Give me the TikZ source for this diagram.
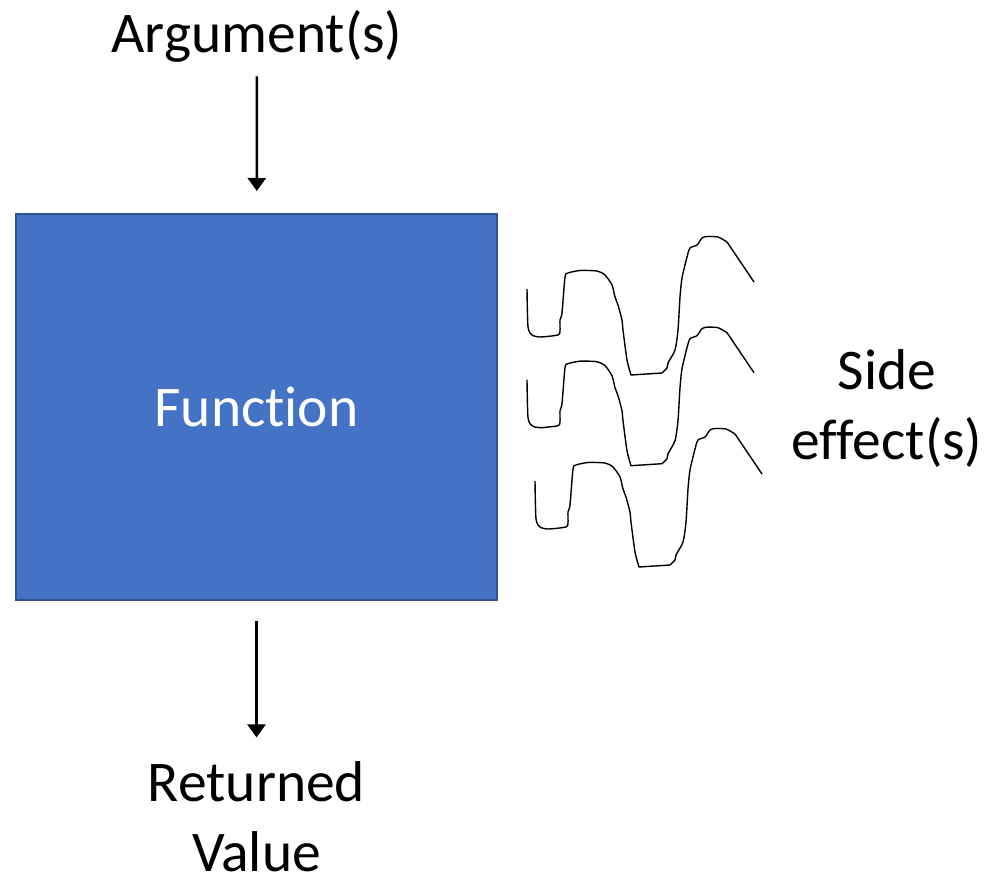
\documentclass[tikz,border=0pt]{standalone}
\usepackage{fontspec}
\setmainfont{Carlito}[Ligatures=NoCommon]
\usepackage{tikz}
\usetikzlibrary{arrows.meta}
\pgfdeclarelayer{nodelayer}
\pgfdeclarelayer{edgelayer}
\pgfsetlayers{edgelayer,nodelayer,main}
\definecolor{boxblue}{HTML}{4472C4}
\definecolor{boxedge}{HTML}{2F528F}
\tikzstyle{function box}=[fill=boxblue, draw=boxedge, line width=1pt, shape=rectangle, minimum width=240.5pt, minimum height=193pt, text=white, font=\fontsize{28.75}{35}\selectfont]
\tikzstyle{label}=[fill=none, draw=none, shape=rectangle, inner sep=0pt, align=center, font=\fontsize{28.75}{35}\selectfont]
\tikzstyle{flow edge}=[draw=black, line width=1.3pt, -{Triangle[length=6.5pt, width=9pt]}]
\tikzstyle{wave edge}=[draw=black, line width=0.7pt, line join=round]
\newcommand{\sidewave}{plot [smooth, tension=0.4] coordinates {(527,289) (528,327) (532,335) (540,337) (558,335) (560,331) (560,320) (562,313) (565,277) (568,273) (580,270.5) (597,271) (605,275) (612,285) (615,297) (618,305) (622,320) (623,330) (627,360) (631,375)} -- (662,373) -- plot [smooth, tension=0.4] coordinates {(662,373) (667,368) (668,363) (675,350) (678,330) (680,297) (682,278) (687,257) (690,248) (697,245) (702,238) (707,236.5) (718,237) (727,242)} -- (754,282)}

\begin{document}
\begin{tikzpicture}[x=0.5pt, y=-0.5pt]
	\useasboundingbox (0,0) rectangle (992,882);
	\begin{pgfonlayer}{nodelayer}
		\node [style=label] (0) at (257,36) {Argument(s)};
		\node [style=function box] (1) at (256.5,407) {Func\kern0pt tion};
		\node [style=label] (2) at (256.5,817) {Returned\\Value};
		\node [style=label] (3) at (887,409) {Side\\effect(s)};
	\end{pgfonlayer}
	\begin{pgfonlayer}{edgelayer}
		\draw [style=flow edge, shorten <=7pt, shorten >=11pt] (0) -- (1);
		\draw [style=flow edge, shorten <=10pt, shorten >=12pt] (1) -- (2);
		\draw [style=wave edge] \sidewave;
		\draw [style=wave edge, shift={(0,90.7)}] \sidewave;
		\draw [style=wave edge, shift={(8,192)}] \sidewave;
	\end{pgfonlayer}
\end{tikzpicture}
\end{document}
